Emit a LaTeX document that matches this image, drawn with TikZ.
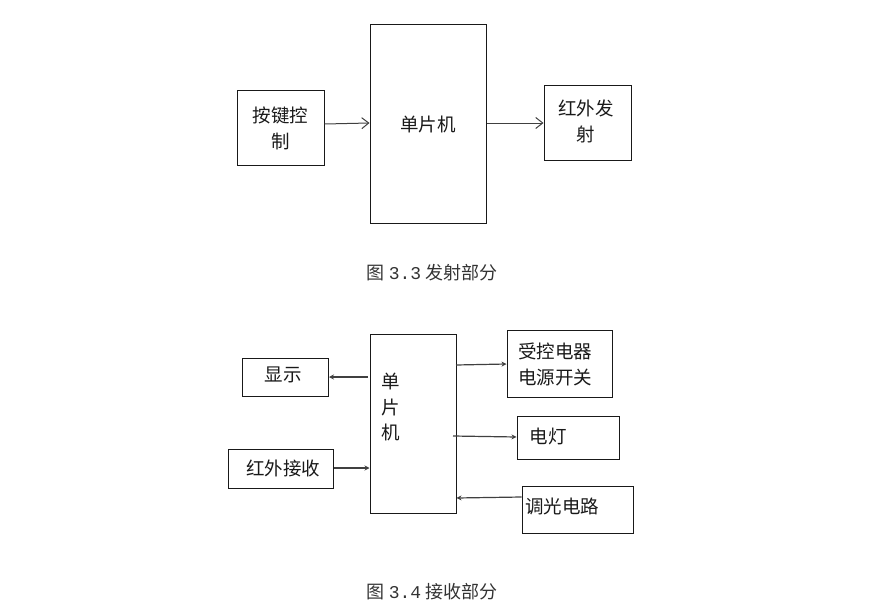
\documentclass[tikz,border=0pt]{standalone}
\usepackage{fontspec}
\setmainfont{Noto Sans CJK SC}
\newfontfamily\capfont{Noto Sans CJK SC}
\newfontfamily\digfont{Liberation Mono}
\usetikzlibrary{arrows.meta}
\begin{document}
\begin{tikzpicture}[x=1pt,y=-1pt,
  blk/.style={draw=black!90,line width=1pt,inner sep=0pt},
  lbl/.style={font=\fontsize{18.5}{26}\selectfont,align=center,inner sep=0pt,text=black!90},
  openarr/.style={draw=black!75,line width=1pt,-{Straight Barb[length=7pt,width=11pt,line width=1pt]}},
  fillarr/.style={draw=black!75,line width=1.2pt,-{Stealth[length=5pt,width=5pt]}},
  captxt/.style={font=\capfont\fontsize{18}{20}\selectfont,text=black!80,inner sep=0pt}]
\useasboundingbox (0,0) rectangle (893,615);
% ---- top diagram
\node[blk,minimum width=87pt,minimum height=74pt] (key) at (280.5,128) {};
\node[lbl] at (key.center) {按键控\\制};
\node[blk,minimum width=116pt,minimum height=198pt] (mcu1) at (428,124) {};
\node[lbl] at (428,124) {单片机};
\node[blk,minimum width=87pt,minimum height=74pt] (ir) at (587.5,123) {};
\node[lbl] at (586,121) {红外发\\射};
\draw[openarr] (key.east |- 0,124) -- (mcu1.west |- 0,123);
\draw[openarr] (mcu1.east |- 0,123) -- (ir.west |- 0,123);
\node[captxt] (c1) at (432,273) {图 {\digfont 3.3} 发射部分};
% ---- bottom diagram
\node[blk,minimum width=86pt,minimum height=38pt] (disp) at (285.5,377) {};
\node[lbl] at (283,375) {显示};
\node[blk,minimum width=86pt,minimum height=179pt] (mcu2) at (413,423.5) {};
\node[lbl] at (391,381) {单};
\node[lbl] at (391,407) {片};
\node[lbl] at (391,432) {机};
\node[blk,minimum width=105pt,minimum height=67pt] (ctl) at (559.5,363.5) {};
\node[lbl] at (555,364) {受控电器\\电源开关};
\node[blk,minimum width=102pt,minimum height=43pt] (lamp) at (568,437.5) {};
\node[lbl] at (548,436) {电灯};
\node[blk,minimum width=105pt,minimum height=39pt] (irr) at (280.5,468.5) {};
\node[lbl] at (283,468) {红外接收};
\node[blk,minimum width=111pt,minimum height=47pt] (dim) at (577.5,509.5) {};
\node[lbl] at (562,506) {调光电路};
\coordinate (m1) at (368,377);
\coordinate (m2) at (456,365);
\coordinate (m3) at (453,436);
\draw[fillarr] (m1) -- (disp.east |- 0,377);
\draw[fillarr] (irr.east |- 0,468) -- (mcu2.west |- 0,468);
\draw[fillarr] (m2) -- (ctl.west |- 0,364);
\draw[fillarr] (m3) -- (lamp.west |- 0,437);
\draw[fillarr] (dim.west |- 0,497) -- (mcu2.east |- 0,498);
\node[captxt] (c2) at (432,592) {图 {\digfont 3.4} 接收部分};
\end{tikzpicture}
\end{document}
